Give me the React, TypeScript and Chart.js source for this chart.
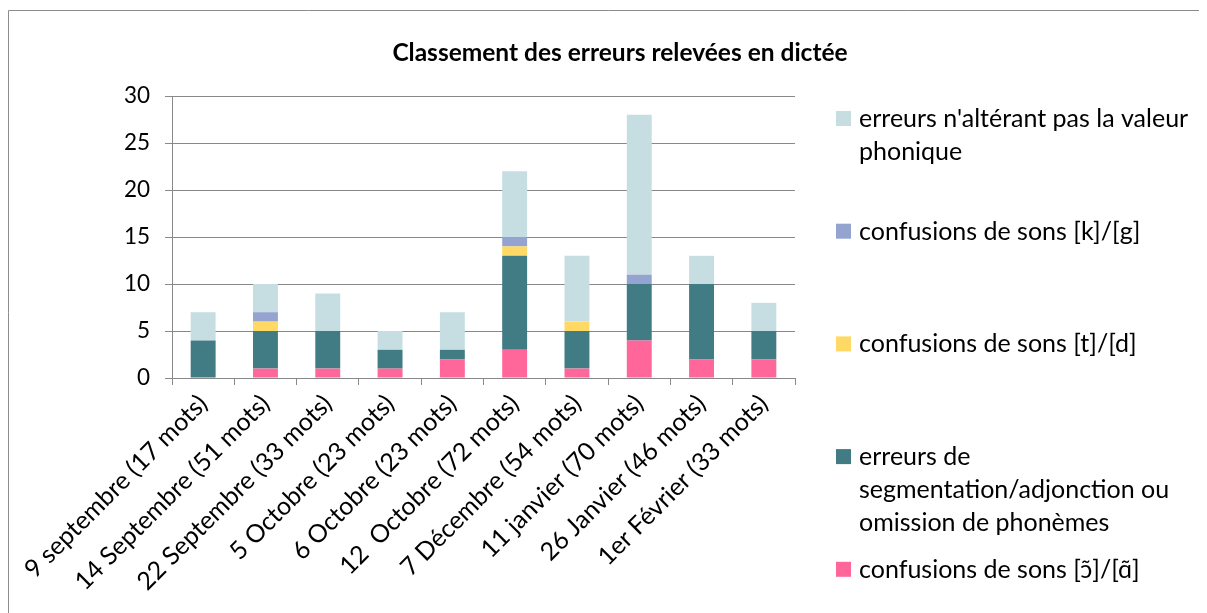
import React, { useEffect, useRef } from "react";
import { Chart, registerables } from "chart.js";

Chart.register(...registerables);

const categories = [
  "9 septembre (17 mots)",
  "14 Septembre (51 mots)",
  "22 Septembre (33 mots)",
  "5 Octobre (23 mots)",
  "6 Octobre (23 mots)",
  "12  Octobre (72 mots)",
  "7 Décembre (54 mots)",
  "11 janvier (70 mots)",
  "26 Janvier (46 mots)",
  "1er Février (33 mots)",
];

const seriesNames = [
  "confusions de sons [ɔ̃]/[ɑ̃]",
  "erreurs de segmentation/adjonction ou omission de phonèmes",
  "confusions de sons [t]/[d]",
  "confusions de sons [k]/[g]",
  "erreurs n'altérant pas la valeur phonique",
];

const nasalConfusions = [0, 1, 1, 1, 2, 3, 1, 4, 2, 2];
const segmentationErrors = [4, 4, 4, 2, 1, 10, 4, 6, 8, 3];
const tdConfusions = [0, 1, 0, 0, 0, 1, 1, 0, 0, 0];
const kgConfusions = [0, 1, 0, 0, 0, 1, 0, 1, 0, 0];
const nonPhonicErrors = [3, 3, 4, 2, 4, 7, 7, 17, 3, 3];

const seriesColors = ["#FF6699", "#417B83", "#FFD966", "#95A3D1", "#C6DEE2"];

const chartTitle = "Classement des erreurs relevées en dictée";

const FONT = "Lato, 'Open Sans', sans-serif";
const GRID = "#888888";

function wrap(ctx: CanvasRenderingContext2D, text: string, maxW: number): string[] {
  const words = text.split(" ");
  const lines: string[] = [];
  let cur = "";
  for (const w of words) {
    const test = cur ? cur + " " + w : w;
    if (ctx.measureText(test).width > maxW && cur) {
      lines.push(cur);
      cur = w;
    } else cur = test;
  }
  if (cur) lines.push(cur);
  return lines;
}

const decorPlugin = {
  id: "decor",
  afterDraw(chart: any) {
    const ctx = chart.ctx as CanvasRenderingContext2D;
    const area = chart.chartArea;
    ctx.save();
    // frame
    ctx.strokeStyle = "#8C8C8C";
    ctx.lineWidth = 1;
    ctx.beginPath();
    ctx.moveTo(0.5, chart.height + 5);
    ctx.lineTo(0.5, 2.5);
    ctx.lineTo(chart.width + 5, 2.5);
    ctx.stroke();
    // title
    ctx.fillStyle = "#000";
    ctx.font = `bold 24.5px ${FONT}`;
    ctx.textAlign = "center";
    ctx.textBaseline = "middle";
    ctx.fillText(chartTitle, 612, 45);
    // legend
    ctx.font = `25px ${FONT}`;
    ctx.textAlign = "left";
    const ds = chart.data.datasets;
    const lx = area.right + 41;
    const n = ds.length;
    for (let i = 0; i < n; i++) {
      const d = ds[n - 1 - i];
      const top = 103 + i * 112.7;
      ctx.fillStyle = d.backgroundColor;
      ctx.fillRect(lx, top, 15, 15);
      ctx.fillStyle = "#000";
      const lines = wrap(ctx, d.label, 345);
      lines.forEach((ln, k) => {
        ctx.fillText(ln, lx + 23, top + 8 + k * 33);
      });
    }
    ctx.restore();
  },
};

export default function App() {
  const ref = useRef<HTMLCanvasElement | null>(null);
  useEffect(() => {
    if (!ref.current) return;
    const values = [nasalConfusions, segmentationErrors, tdConfusions, kgConfusions, nonPhonicErrors];
    const chart = new Chart(ref.current, {
      type: "bar",
      data: {
        labels: categories,
        datasets: values.map((v, i) => ({
          label: seriesNames[i],
          data: v,
          backgroundColor: seriesColors[i],
          borderWidth: 0,
          barPercentage: 0.4,
          categoryPercentage: 1,
        })),
      },
      options: {
        responsive: false,
        animation: false,
        layout: { padding: { top: 88, right: 412, left: 0, bottom: 0 } },
        plugins: {
          legend: { display: false },
          title: { display: false },
          tooltip: { enabled: false },
        },
        scales: {
          x: {
            stacked: true,
            grid: {
              drawOnChartArea: false,
              drawTicks: true,
              tickLength: 7,
              color: GRID,
              offset: true,
            },
            border: { color: GRID },
            ticks: {
              autoSkip: false,
              minRotation: 45,
              maxRotation: 45,
              padding: 4,
              color: "#000",
              font: { family: FONT, size: 25 },
            },
            afterFit(scale: any) {
              scale.height = 235;
            },
          },
          y: {
            stacked: true,
            min: 0,
            max: 30,
            grid: { color: GRID, tickLength: 7 },
            border: { color: GRID },
            ticks: {
              stepSize: 5,
              padding: 15,
              color: "#000",
              font: { family: FONT, size: 22.5 },
            },
            afterFit(scale: any) {
              scale.width = 164;
            },
          },
        },
      },
      plugins: [decorPlugin],
    });
    return () => chart.destroy();
  }, []);
  return <canvas ref={ref} width={1199} height={605} style={{ display: "block" }} />;
}
